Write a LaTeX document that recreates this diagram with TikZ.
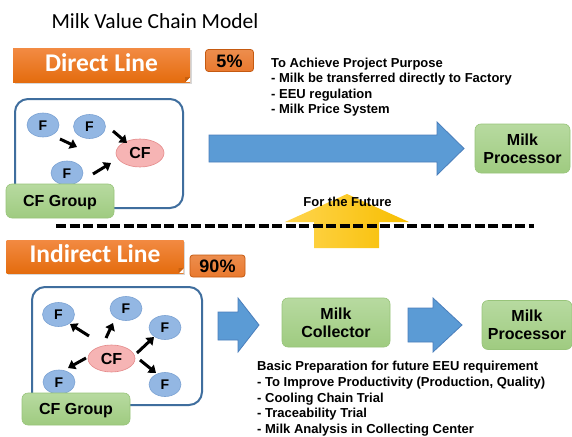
\documentclass[tikz,border=0pt]{standalone}
\usepackage{fontspec}
\setmainfont{Liberation Sans}
\newfontfamily\carlito{Carlito}
\usetikzlibrary{arrows.meta,shapes.geometric,shadows}
\definecolor{orangeL}{HTML}{F28A42}
\definecolor{orangeD}{HTML}{E46C0E}
\definecolor{orangeF}{HTML}{C9600E}
\definecolor{pctfill}{HTML}{E9792E}
\definecolor{pctdraw}{HTML}{C55A11}
\definecolor{greenL}{HTML}{B7DAA0}
\definecolor{greenD}{HTML}{9FCB80}
\definecolor{greenB}{HTML}{98C47A}
\definecolor{fblue}{HTML}{93B7E3}
\definecolor{fblueD}{HTML}{7BA2D3}
\definecolor{cfpink}{HTML}{F6B4B4}
\definecolor{cfred}{HTML}{E58A8A}
\definecolor{arrblue}{HTML}{5B9BD5}
\definecolor{arrblueD}{HTML}{4A7EBB}
\definecolor{grpblue}{HTML}{3F6E9E}
\definecolor{yelL}{HTML}{FFD54F}
\definecolor{yelD}{HTML}{F7BE00}
\begin{document}
\begin{tikzpicture}[x=1pt,y=-1pt,
  titlefont/.style={font=\carlito\fontsize{21.5}{24}\selectfont, inner sep=0},
  banner/.style={rectangle, minimum width=177, minimum height=33, inner sep=0,
    top color=orangeL, bottom color=orangeD, text=white,
    font=\carlito\bfseries\fontsize{25.5}{30}\selectfont,
    text height=18.6, text depth=6.2,
    drop shadow={shadow xshift=1.5pt, shadow yshift=-1.5pt, opacity=0.3}},
  fold/.style={fill=orangeF},
  pct/.style={rectangle, rounded corners=3, top color=pctfill!85!white, bottom color=pctfill,
    draw=pctdraw, line width=0.8,
    minimum width=48, minimum height=22, inner sep=0, text height=13, text depth=0,
    font=\bfseries\fontsize{18}{20}\selectfont},
  grp/.style={rectangle, draw=grpblue, line width=2, rounded corners=13, inner sep=0},
  greenbox/.style={rectangle, rounded corners=6, top color=greenL, bottom color=greenD,
    draw=greenB, line width=0.6, inner sep=0, align=center,
    font=\bfseries\fontsize{16}{17.7}\selectfont},
  fnode/.style={ellipse, minimum width=32, minimum height=24, inner sep=0,
    fill=fblue, draw=fblueD, line width=0.6, text height=10, text depth=0,
    font=\bfseries\fontsize{14}{16}\selectfont},
  cfnode/.style={ellipse, minimum width=48, minimum height=28, inner sep=0,
    fill=cfpink, draw=cfred, line width=0.6, text height=11.5, text depth=0,
    font=\bfseries\fontsize{16}{18}\selectfont},
  arr/.style={line width=3, -{Triangle[length=7pt,width=10pt]}},
  bluearrow/.style={fill=arrblue, draw=arrblueD, line width=0.8},
  yellowarrow/.style={left color=yelL, right color=yelD, draw=none},
  dashline/.style={line width=4.5, dash pattern=on 10pt off 3.5pt},
  infotext/.style={inner sep=0, align=left, font=\bfseries\fontsize{13}{15.6}\selectfont}
]
\useasboundingbox (0,0) rectangle (572,436);
\fill[white] (0,0) rectangle (572,436);

% title
\node[titlefont, anchor=base] (title) at (155,28.3) {Milk Value Chain Model};

% ---------------- Direct line ----------------
\node[banner] (direct) at (101.5,65.5) {Direct Line};
\fill[white] (direct.south east) -- ++(-5,0) -- ++(5,-5) -- cycle;
\fill[fold] ([shift={(-5,0)}]direct.south east) -- ++(5,-5) -- ++(-5,0) -- cycle;
\node[pct] (p5) at (229.5,60.5) {5\%};
\node[infotext, anchor=north west] (info1) at (271,57.4)
  {To Achieve Project Purpose\\- Milk be transferred directly to Factory\\- EEU regulation\\- Milk Price System};

\node[grp, minimum width=168, minimum height=109] (grp1) at (99,153.5) {};
\node[fnode] (f1) at (43,125) {F};
\node[fnode] (f2) at (89.5,126.5) {F};
\node[fnode] (f3) at (67,173) {F};
\node[cfnode] (cf1) at (140,153) {CF};
\draw[arr] ([shift={(17,14)}]f1.center) -- ([shift={(-63,-6)}]cf1.center);
\draw[arr] ([shift={(23.5,4.5)}]f2.center) -- ([shift={(-13,-10)}]cf1.center);
\draw[arr] ([shift={(26,1)}]f3.center) -- ([shift={(-29,10)}]cf1.center);
\node[greenbox, minimum width=108, minimum height=34, text height=11.5, text depth=0] (cfg1) at (60,201) {CF Group};

\draw[bluearrow] (209,135) -- (437,135) -- (437,122) -- (464,148.5) -- (437,175) -- (437,162) -- (209,162) -- cycle;
\node[greenbox, minimum width=95, minimum height=49] (proc1) at (522.5,148.5) {Milk\\Processor};

% ---------------- separator ----------------
\path[yellowarrow] (347,194) -- (409,222) -- (379,222) -- (379,248) -- (314,248) -- (314,222) -- (285,222) -- cycle;
\coordinate (dl) at (56,226);
\coordinate (dr) at (534,226);
\draw[dashline] (dl) -- (dr);
\node[infotext, anchor=base] (future) at (347.5,206) {For the Future};

% ---------------- Indirect line ----------------
\node[banner] (indirect) at (95,256.5) {Indirect Line};
\fill[white] (indirect.south east) -- ++(-5,0) -- ++(5,-5) -- cycle;
\fill[fold] ([shift={(-5,0)}]indirect.south east) -- ++(5,-5) -- ++(-5,0) -- cycle;
\node[pct, minimum width=55] (p90) at (217.5,266) {90\%};

\node[grp, minimum width=170, minimum height=118] (grp2) at (117,346) {};
\node[fnode] (g1) at (58.5,314.5) {F};
\node[fnode] (g2) at (126,308.5) {F};
\node[fnode] (g3) at (165,327.5) {F};
\node[fnode] (g4) at (59,382) {F};
\node[fnode] (g5) at (165,384.5) {F};
\node[cfnode, minimum width=47, minimum height=27] (cf2) at (111.5,358.5) {CF};
\draw[arr] ([shift={(-22.5,-22.5)}]cf2.center) -- ([shift={(11.5,9.5)}]g1.center);
\draw[arr] ([shift={(-5.5,-20.5)}]cf2.center) -- ([shift={(-13,14.5)}]g2.center);
\draw[arr] ([shift={(25.5,-5.5)}]cf2.center) -- ([shift={(-11,9.5)}]g3.center);
\draw[arr] ([shift={(-25.5,-0.5)}]cf2.center) -- ([shift={(9,-14)}]g4.center);
\draw[arr] ([shift={(28.5,1.5)}]cf2.center) -- ([shift={(-9,-11.5)}]g5.center);
\node[greenbox, minimum width=108, minimum height=32, text height=11.5, text depth=0] (cfg2) at (76,409) {CF Group};

\draw[bluearrow] (218,312) -- (238,312) -- (238,298) -- (259,325) -- (238,352) -- (238,340) -- (218,340) -- cycle;
\node[greenbox, minimum width=108, minimum height=49] (coll) at (336,322.5) {Milk\\Collector};
\draw[bluearrow] (408,308) -- (433,308) -- (433,298) -- (462,325) -- (433,352) -- (433,342) -- (408,342) -- cycle;
\node[greenbox, minimum width=90, minimum height=49] (proc2) at (527,325) {Milk\\Processor};

\node[infotext, anchor=north west] (info2) at (257,361.2)
  {Basic Preparation for future EEU requirement\\- To Improve Productivity (Production, Quality)\\- Cooling Chain Trial\\- Traceability Trial\\- Milk Analysis in Collecting Center};
\end{tikzpicture}
\end{document}
